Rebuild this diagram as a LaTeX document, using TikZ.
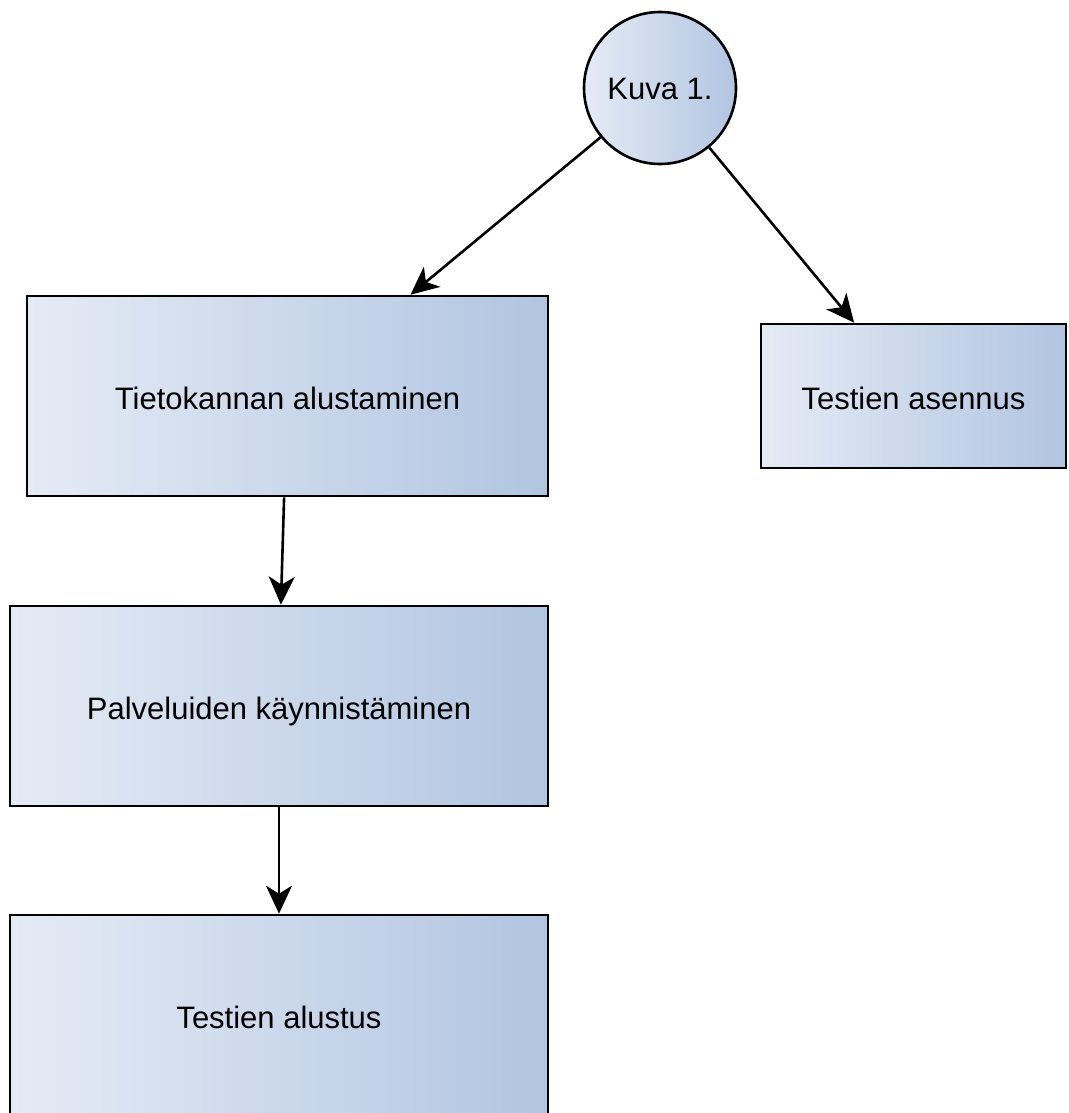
\documentclass[tikz,border=0pt]{standalone}
\usepackage{fontspec}
\setmainfont{Liberation Sans}
\usetikzlibrary{arrows.meta,calc}
\definecolor{fillA}{HTML}{E5EBF5}
\definecolor{fillB}{HTML}{B1C5E1}
\tikzset{
  stepbox/.style={draw=black, line width=2.6pt, rectangle, left color=fillA, right color=fillB,
    inner sep=0pt, text height=26pt, text depth=0pt, font=\fontsize{31}{37}\selectfont},
  startnode/.style={draw=black, line width=2.6pt, circle, left color=fillA, right color=fillB,
    inner sep=0pt, minimum size=152pt, text height=24pt, text depth=0pt,
    font=\fontsize{31}{37}\selectfont},
  arr/.style={line width=2.6pt, -{Stealth[length=28pt, width=26pt, inset=8pt]}}
}
\begin{document}
\begin{tikzpicture}[x=1pt, y=-1pt]
  \useasboundingbox (0,0) rectangle (1068,1113);
  % start circle
  \node[startnode] (c) at (660,88) {Kuva 1.};
  % process boxes
  \node[stepbox, minimum width=521pt, minimum height=200pt] (b1) at (287.5,396) {Tietokannan alustaminen};
  \node[stepbox, minimum width=305pt, minimum height=144pt] (b2) at (913.5,396) {Testien asennus};
  \node[stepbox, minimum width=538pt, minimum height=200pt] (b3) at (279,706) {Palveluiden käynnistäminen};
  \node[stepbox, minimum width=538pt, minimum height=200pt] (b4) at (279,1015) {Testien alustus};
  % arrow end points on the top edges
  \coordinate (t1) at ($(b1.north west)!0.735!(b1.north east)$);
  \coordinate (t2) at ($(b2.north west)!0.307!(b2.north east)$);
  % connectors
  \draw[arr] (c) -- (t1);
  \draw[arr] (c) -- (t2);
  \draw[arr] ($(b1.south west)!0.987!(b1.south)$) -- ($(b3.north west)!1.007!(b3.north)$);
  \draw[arr] (b3.south) -- (b4.north);
\end{tikzpicture}
\end{document}
